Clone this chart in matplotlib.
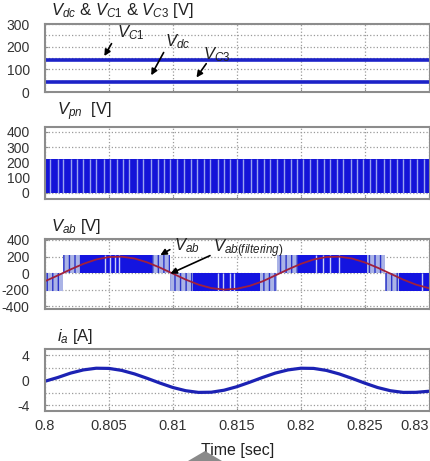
import matplotlib
matplotlib.use('Agg')
import matplotlib.pyplot as plt
from matplotlib.patches import Polygon

plt.rcParams['font.family'] = ['Liberation Sans', 'DejaVu Sans']
plt.rcParams['mathtext.fontset'] = 'custom'
plt.rcParams['mathtext.it'] = 'Liberation Sans:italic'
plt.rcParams['mathtext.rm'] = 'Liberation Sans'
plt.rcParams['axes.unicode_minus'] = False

# Datos
t_ms = list(range(0, 31))  # ms desde 0.8 s
i_a = [-0.15, 0.45, 1.15, 1.66, 1.93, 1.90, 1.58, 1.02, 0.31, -0.45, -1.15,
       -1.66, -1.93, -1.90, -1.58, -1.02, -0.31, 0.45, 1.15, 1.66, 1.93,
       1.90, 1.58, 1.02, 0.31, -0.45, -1.15, -1.66, -1.93, -1.92, -1.75]
vab_filt = [-99, -29, 44, 111, 164, 194, 198, 176, 129, 65, -7, -79, -140,
            -182, -200, -190, -155, -101, -29, 44, 111, 164, 194, 198, 176,
            129, 65, -7, -79, -140, -182]

v_c1 = 140
v_dc = 45
vpn_level = 225
vpn_gaps = [0.8004, 0.8010, 0.8014, 0.8020, 0.8025, 0.8030, 0.8035, 0.8040,
            0.8046, 0.8051, 0.8056, 0.8061, 0.8066, 0.8072, 0.8077, 0.8083,
            0.8088, 0.8093, 0.8098, 0.8103, 0.8109, 0.8114, 0.8119, 0.8124,
            0.8129, 0.8135, 0.8140, 0.8145, 0.8150, 0.8155, 0.8161, 0.8166,
            0.8171, 0.8176, 0.8181, 0.8187, 0.8192, 0.8197, 0.8202, 0.8207,
            0.8213, 0.8218, 0.8223, 0.8228, 0.8233, 0.8239, 0.8244, 0.8249,
            0.8254, 0.8259, 0.8265, 0.8270, 0.8275, 0.8280, 0.8285, 0.8291,
            0.8296]

vab_level = 220
# (inicio, fin, signo)
vab_solid = [(0.8027, 0.8084, 1), (0.8116, 0.8168, -1),
             (0.8198, 0.8252, 1), (0.8277, 0.8302, -1)]
vab_striped = [(0.8000, 0.8014, -1), (0.8014, 0.8027, 1),
               (0.8084, 0.8098, 1), (0.8098, 0.8116, -1),
               (0.8168, 0.8181, -1), (0.8181, 0.8198, 1),
               (0.8252, 0.8266, 1), (0.8266, 0.8277, -1)]
vab_gaps = [(0.8047, 1), (0.8051, 1), (0.8055, 1), (0.8058, 1),
            (0.8135, -1), (0.8139, -1), (0.8145, -1), (0.8148, -1),
            (0.8212, 1), (0.8217, 1), (0.8223, 1), (0.8230, 1),
            (0.8295, -1)]

x_ticks = [0.8, 0.805, 0.81, 0.815, 0.82, 0.825, 0.83]
x_labels = ['0.8', '0.805', '0.81', '0.815', '0.82', '0.825', '0.83']

t = [0.8 + m / 1000 for m in t_ms]
t_span = [0.8, 0.8302]
blue = '#1c22c8'

fig = plt.figure(figsize=(4.31, 4.61), dpi=100)
W, H = 431, 461


def make_ax(top, bottom):
    ax = fig.add_axes([45 / W, 1 - bottom / H, 385 / W, (bottom - top) / H])
    ax.set_xlim(0.8, 0.8301)
    ax.set_xticks(x_ticks)
    ax.set_xticklabels([])
    for s in ax.spines.values():
        s.set_color('#8c8c8c')
        s.set_linewidth(1.5)
    ax.tick_params(direction='in', length=2, colors='#8c8c8c',
                   labelcolor='#333333', labelsize=10)
    ax.tick_params(axis='y', pad=11)
    ax.grid(True, which='both', linestyle=':', color='#9a9a9a', linewidth=0.9)
    ax.set_axisbelow(True)
    return ax


# Panel 1
ax1 = make_ax(24, 92)
ax1.plot(t_span, [v_c1, v_c1], color=blue, linewidth=2.6)
ax1.plot(t_span, [v_dc, v_dc], color=blue, linewidth=2.6)
ax1.set_ylim(0, 300)
ax1.set_yticks([0, 100, 200, 300])
ax1.set_yticks([50, 150, 250], minor=True)
ax1.tick_params(which='minor', length=0)
ax1.text(0.8005, 318, r'$V_{dc}$ & $V_{C1}$ & $V_{C3}$ [V]', fontsize=12,
         color='#222222', va='bottom')
arrow = dict(arrowstyle='-|>', color='black', linewidth=1.2, mutation_scale=9)
ax1.annotate('', xy=(0.80453, 148), xytext=(0.80531, 224), arrowprops=arrow)
ax1.text(0.80565, 262, r'$V_{C1}$', fontsize=12, color='#222222', va='center')
ax1.annotate('', xy=(0.80820, 63), xytext=(0.80938, 185), arrowprops=arrow)
ax1.text(0.80935, 222, r'$V_{dc}$', fontsize=12, color='#222222', va='center')
ax1.annotate('', xy=(0.81172, 54), xytext=(0.81273, 135), arrowprops=arrow)
ax1.text(0.81235, 165, r'$V_{C3}$', fontsize=12, color='#222222', va='center')

# Panel 2
ax2 = make_ax(127, 199)
ax2.fill_between(t_span, 0, vpn_level, color='#1414d8', linewidth=0)
ax2.vlines(vpn_gaps, 0, vpn_level, color='#9aa4f0', linewidth=1.0)
ax2.set_ylim(-40, 432)
ax2.set_yticks([0, 100, 200, 300, 400])
ax2.text(0.8009, 460, r'$V_{pn}$  [V]', fontsize=12, color='#222222',
         va='bottom')

# Panel 3
ax3 = make_ax(239, 309)
for a, b, s in vab_striped:
    ax3.fill_between([a, b], 0, s * vab_level, facecolor='#aab3e6',
                     edgecolor='#2a33c8', hatch='|||', linewidth=0)
for a, b, s in vab_solid:
    ax3.fill_between([a, b], 0, s * vab_level, color='#1414e0', linewidth=0)
for g, s in vab_gaps:
    ax3.vlines(g, 0, s * vab_level, color='#c8ccf4', linewidth=1.0)
ax3.plot(t, vab_filt, color='#a0203c', linewidth=1.3)
ax3.set_ylim(-435, 412)
ax3.set_yticks([-400, -200, 0, 200, 400])
ax3.text(0.8005, 445, r'$V_{ab}$ [V]', fontsize=12, color='#222222',
         va='bottom')
ax3.annotate('', xy=(0.80883, 200), xytext=(0.80995, 300), arrowprops=arrow)
ax3.text(0.81005, 335, r'$V_{ab}$', fontsize=12, color='#222222', va='center')
ax3.annotate('', xy=(0.80961, -20), xytext=(0.81310, 225), arrowprops=arrow)
ax3.text(0.81315, 300, r'$V_{ab(filtering)}$', fontsize=12, color='#222222',
         va='center')

# Panel 4
ax4 = make_ax(349, 411)
ax4.plot(t, i_a, color='#1c22b4', linewidth=2.3)
ax4.set_ylim(-4.9, 5.0)
ax4.set_yticks([-4, 0, 4])
ax4.set_yticks([-2, 2], minor=True)
ax4.tick_params(which='minor', length=0)
ax4.set_xticklabels(x_labels)
ax4.get_xticklabels()[-1].set_horizontalalignment('right')
ax4.tick_params(axis='x', labelsize=10.5, pad=6)
ax4.set_xlabel('Time [sec]', fontsize=11.5, color='#222222', labelpad=7)
ax4.text(0.8009, 5.5, r'$i_a$ [A]', fontsize=12, color='#222222',
         va='bottom')

# marca gris bajo el eje
fig.patches.append(Polygon([(188 / W, 0), (205 / W, 1 - 451 / H), (222 / W, 0)],
                           closed=True, transform=fig.transFigure,
                           facecolor='#8a8a8a', edgecolor='none'))

plt.savefig('out.png', dpi=100)
